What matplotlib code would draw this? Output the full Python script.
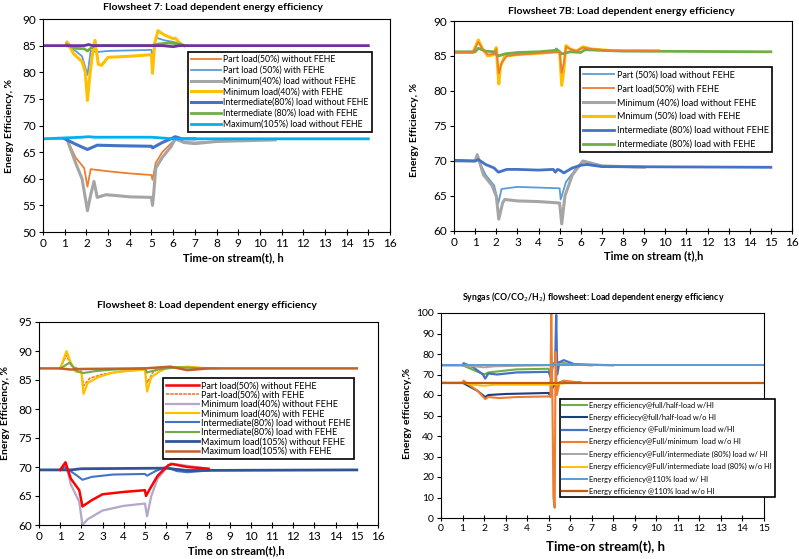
import matplotlib
matplotlib.use("Agg")
import matplotlib.pyplot as plt

plt.rcParams['font.family'] = ['Lato', 'DejaVu Sans']

# ---------------- Panel 1: Flowsheet 7 ----------------
p1_labels = ["Part load(50%) without FEHE", "Part load (50%) with FEHE",
             "Minimum(40%) load without FEHE", "Minimum load(40%) with FEHE",
             "Intermediate(80%) load without FEHE", "Intermediate (80%) load with FEHE",
             "Maximum(105%) load without FEHE"]

p1_part_wo_t = [0, 1.1, 1.5, 1.9, 2.05, 2.2, 3, 4, 5, 5.05, 5.2, 5.5, 6.0, 6.2, 6.5, 7, 8, 9.2]
p1_part_wo_y = [67.5, 67.5, 64, 62, 58.5, 61.8, 61.4, 61.0, 60.7, 59.8, 63, 65, 67, 67.5, 66.9, 66.8, 67.0, 67.3]

p1_part_w_t = [1.1, 1.5, 1.8, 2.05, 2.2, 2.5, 3, 4, 5, 5.05, 5.2, 5.6, 6.0, 6.2, 6.5]
p1_part_w_y = [85.0, 84.0, 83.0, 79.5, 84.0, 83.8, 84.0, 84.1, 84.2, 82.5, 86.5, 86.0, 85.7, 85.5, 85.0]

p1_min_wo_t = [1.1, 1.5, 1.8, 2.05, 2.2, 2.35, 2.5, 2.9, 3.5, 4, 5, 5.05, 5.1, 5.2, 5.5, 5.9, 6.1, 6.5, 7, 8, 10.7]
p1_min_wo_y = [67.5, 63, 60, 54, 57, 59.5, 56.5, 57, 56.8, 56.6, 56.5, 55, 57, 62, 64, 66, 67.5, 66.8, 66.6, 67.0, 67.3]

p1_min_w_t = [1.05, 1.1, 1.2, 1.4, 1.8, 1.95, 2.05, 2.15, 2.3, 2.4, 2.55, 2.7, 3, 4, 5, 5.05, 5.15, 5.3, 5.6, 6.0, 6.1, 6.3, 6.5]
p1_min_w_y = [85.0, 85.7, 85.2, 83.5, 82.0, 80.0, 74.7, 79.0, 84.0, 86.0, 81.5, 81.3, 82.8, 83.0, 83.3, 79.8, 85.5, 87.8, 87.0, 86.3, 86.4, 85.5, 85.0]

p1_int_wo_t = [1.0, 1.5, 2.05, 2.5, 3.5, 5, 5.05, 5.5, 5.9, 6.1, 6.4, 7]
p1_int_wo_y = [67.5, 66.5, 65.5, 66.3, 66.2, 66.1, 65.8, 66.8, 67.5, 67.9, 67.5, 67.5]

p1_int_w_t = [1.1, 1.5, 1.9, 2.05, 2.2, 2.4, 5.0, 5.3, 5.8, 6.3, 6.5]
p1_int_w_y = [85.2, 84.5, 84.4, 84.0, 84.5, 85.0, 85.0, 85.3, 85.5, 85.3, 85.0]

p1_max_wo_t = [0, 1.8, 2.1, 2.4, 5.0, 6.0, 15]
p1_max_wo_y = [67.5, 67.8, 67.9, 67.8, 67.8, 67.5, 67.5]

p1_max_w_t = [0, 1.9, 2.1, 2.3, 5.5, 6.0, 6.3, 15]
p1_max_w_y = [85.0, 85.0, 85.2, 85.0, 85.0, 84.8, 85.0, 85.0]

# ---------------- Panel 2: Flowsheet 7B ----------------
p2_labels = ["Part (50%) load without FEHE", "Part load(50%) with FEHE",
             "Minimum (40%) load without FEHE", "Mnimum (50%) load with FEHE",
             "Intermediate (80%) load without FEHE", "Intermediate (80%) load with FEHE"]

p2_part_wo_t = [0, 1.0, 1.1, 1.5, 1.9, 2.1, 2.25, 3, 4, 5, 5.05, 5.3, 5.8, 6.1, 7]
p2_part_wo_y = [70.0, 70.0, 70.5, 68.0, 66.5, 64.0, 66.0, 66.3, 66.2, 66.1, 64.5, 67.0, 69.0, 69.5, 69.3]

p2_part_w_t = [0, 0.9, 1.15, 1.35, 1.6, 1.9, 2.0, 2.12, 2.25, 2.5, 3, 4, 5, 5.1, 5.2, 5.3, 5.5, 5.8, 6.1, 6.5, 7.3, 9.7]
p2_part_w_y = [85.5, 85.5, 87.0, 86.0, 85.2, 85.3, 86.0, 82.5, 84.0, 85.0, 85.2, 85.4, 85.6, 82.6, 84.0, 86.3, 86.0, 85.7, 86.2, 86.0, 85.8, 85.8]

p2_min_wo_t = [0, 1.0, 1.1, 1.4, 1.8, 2.0, 2.12, 2.3, 2.4, 3, 4, 5, 5.1, 5.25, 5.6, 6.1, 7, 9]
p2_min_wo_y = [70.0, 70.0, 70.9, 68.0, 66.5, 65.0, 61.7, 64.0, 64.5, 64.3, 64.2, 64.0, 61.0, 65.0, 68.0, 70.0, 69.3, 69.1]

p2_min_w_t = [0, 0.9, 1.15, 1.35, 1.6, 1.9, 2.0, 2.12, 2.2, 2.4, 3, 4, 5, 5.1, 5.2, 5.3, 5.5, 5.8, 6.1, 6.5, 7.3]
p2_min_w_y = [85.5, 85.5, 87.3, 86.0, 85.0, 85.2, 86.2, 81.0, 83.5, 85.0, 85.2, 85.4, 85.6, 80.8, 83.0, 86.5, 86.0, 85.7, 86.3, 86.0, 85.8]

p2_int_wo_t = [0, 1.0, 1.15, 1.5, 1.9, 2.1, 2.5, 3, 4, 4.7, 4.8, 4.9, 5.0, 5.2, 5.6, 6.0, 6.3, 7, 15]
p2_int_wo_y = [70.1, 70.0, 70.2, 69.5, 69.0, 68.4, 68.8, 68.8, 68.7, 68.8, 68.4, 68.8, 68.7, 68.3, 69.0, 69.4, 69.5, 69.2, 69.1]

p2_int_w_t = [0, 1.0, 1.15, 1.5, 1.9, 2.1, 2.4, 3, 4, 4.8, 4.85, 5.1, 5.5, 6.0, 6.2, 7, 8, 15]
p2_int_w_y = [85.6, 85.6, 86.1, 85.7, 85.6, 85.0, 85.3, 85.5, 85.6, 85.8, 86.0, 85.3, 85.6, 85.5, 85.9, 85.8, 85.7, 85.6]

# ---------------- Panel 3: Flowsheet 8 ----------------
p3_labels = ["Part load(50%) without FEHE", "Part-load(50%) with FEHE",
             "Minimum load(40%) without FEHE", "Minimum load(40%) with FEHE",
             "Intermediate(80%) load without FEHE", "Intermediate(80%) load with FEHE",
             "Maximum load(105%) without FEHE", "Maximum load(105%) with FEHE"]

p3_part_wo_t = [1.0, 1.25, 1.5, 1.9, 2.05, 2.5, 3, 4, 5, 5.05, 5.2, 5.6, 6.1, 6.3, 7, 8]
p3_part_wo_y = [69.5, 70.8, 68.0, 66.0, 63.2, 64.3, 65.3, 65.7, 66.0, 65.0, 66.0, 68.5, 70.3, 70.5, 70.0, 69.7]

p3_part_w_t = [1.0, 1.3, 1.5, 2.0, 2.1, 2.4, 3, 4, 5, 5.1, 5.4, 6.0, 7, 8]
p3_part_w_y = [87.0, 89.3, 87.5, 86.7, 84.0, 85.3, 86.0, 86.5, 86.8, 84.5, 86.5, 87.2, 87.2, 87.0]

p3_min_wo_t = [1.0, 1.25, 1.5, 1.9, 2.05, 2.3, 3, 4, 5, 5.1, 5.3, 5.6, 6.2, 7, 8]
p3_min_wo_y = [69.5, 70.8, 67.0, 64.0, 60.0, 61.0, 62.5, 63.3, 63.7, 61.5, 65.0, 68.0, 70.6, 70.2, 69.7]

p3_min_w_t = [1.0, 1.3, 1.5, 1.7, 2.0, 2.1, 2.3, 2.8, 3.5, 4, 5, 5.1, 5.3, 5.7, 6.0, 7, 8, 8.5]
p3_min_w_y = [87.0, 90.0, 88.0, 86.5, 86.3, 82.6, 84.5, 85.5, 86.3, 86.5, 86.8, 83.0, 85.5, 86.5, 87.0, 87.3, 87.0, 87.0]

p3_int_wo_t = [1.0, 1.2, 1.8, 2.05, 2.5, 3.5, 5, 5.1, 5.5, 6.0, 6.5, 7, 8]
p3_int_wo_y = [69.5, 70.0, 68.5, 67.8, 68.3, 68.7, 68.8, 68.5, 69.3, 70.0, 69.3, 69.1, 69.4]

p3_int_w_t = [1.0, 1.45, 1.8, 2.1, 2.6, 3.5, 5, 5.1, 5.6, 6.0, 6.5, 8]
p3_int_w_y = [87.0, 88.0, 86.5, 86.2, 86.5, 86.8, 87.0, 86.3, 86.8, 87.0, 87.2, 87.0]

p3_max_wo_t = [0, 1.0, 1.5, 2.0, 6.0, 7, 15]
p3_max_wo_y = [69.5, 69.5, 69.5, 69.7, 69.8, 69.4, 69.5]

p3_max_w_t = [0, 1.0, 1.5, 2.0, 5.0, 6.2, 7, 8, 15]
p3_max_w_y = [87.0, 87.0, 86.8, 86.9, 87.0, 87.3, 86.7, 87.0, 87.0]

# ---------------- Panel 4: Syngas flowsheet ----------------
p4_labels = ["Energy efficiency@full/half-load w/HI", "Energy efficiecy@full/half-load w/o HI",
             "Energy efficiency @Full/minimum load w/HI", "Energy efficiency@Full/minimum  load w/o HI",
             "Energy efficiency@Full/intermediate (80%) load w/ HI",
             "Energy efficiency@Full/intermediate load (80%) w/o HI",
             "Energy efficiency@110% load w/ HI", "Energy efficiency @110% load w/o HI"]

p4_half_w_t = [1.0, 2.0, 2.2, 3.5, 5.0, 5.1, 5.2, 5.5, 6.0, 7.0]
p4_half_w_y = [74.5, 70.0, 71.0, 72.5, 72.8, 70.0, 75.5, 76.0, 75.0, 74.5]

p4_half_wo_t = [1.0, 1.7, 2.05, 2.2, 3.0, 5.0, 5.05, 5.2, 5.4, 5.6, 6.5]
p4_half_wo_y = [66.0, 62.0, 59.0, 60.0, 60.5, 61.0, 60.0, 64.0, 65.5, 66.5, 66.0]

p4_min_w_t = [0, 1.0, 1.05, 1.5, 1.95, 2.05, 2.2, 2.6, 3.5, 5.0, 5.1, 5.2, 5.3, 5.35, 5.4, 5.5, 5.7, 6.2, 8.0]
p4_min_w_y = [74.5, 74.5, 75.5, 73.5, 70.0, 68.0, 70.5, 70.0, 71.0, 71.3, 68.5, 75.0, 75.0, 99.0, 70.0, 76.0, 77.0, 75.0, 74.5]

p4_min_wo_t = [0, 1.0, 1.05, 1.3, 1.7, 2.05, 2.2, 2.7, 3.5, 5.0, 5.08, 5.12, 5.18, 5.22, 5.28, 5.32, 5.38, 5.5, 5.7, 6.5]
p4_min_wo_y = [66.0, 66.0, 67.0, 65.0, 62.0, 58.0, 59.0, 58.5, 59.0, 59.3, 59.0, 100.0, 52.0, 10.0, 5.0, 81.0, 60.0, 66.0, 67.0, 66.0]

p4_int_w_t = [1.0, 2.0, 2.5, 5.0, 5.5, 7.0]
p4_int_w_y = [74.5, 73.5, 74.0, 74.5, 75.0, 74.5]

p4_int_wo_t = [1.0, 1.5, 2.0, 2.5, 5.0, 5.5, 6.0]
p4_int_wo_y = [66.0, 65.0, 64.5, 65.0, 65.0, 65.5, 66.0]

p4_max_w_t = [0, 15]
p4_max_w_y = [74.5, 74.5]

p4_max_wo_t = [0, 15]
p4_max_wo_y = [66.0, 66.0]

# ---------------- Figure ----------------
W, H = 799, 559
fig = plt.figure(figsize=(W / 100, H / 100), dpi=100)

def ax_px(l, t, r, b):
    return fig.add_axes([l / W, 1 - b / H, (r - l) / W, (b - t) / H])

def ftext(x, y, s, **kw):
    fig.text(x / W, 1 - y / H, s, ha='center', va='center', **kw)

def style(ax, xmax, ylim, ystep, xs=8.5, ys=8.5):
    ax.set_xlim(0, xmax)
    ax.set_ylim(*ylim)
    ax.set_xticks(range(0, xmax + 1))
    ax.set_yticks(range(ylim[0], ylim[1] + 1, ystep))
    ax.tick_params(axis='x', direction='inout', length=5, width=0.8, labelsize=xs, pad=2)
    ax.tick_params(axis='y', direction='out', length=3, width=0.8, labelsize=ys, pad=2)
    for s in ax.spines.values():
        s.set_linewidth(0.8)
        s.set_color('black')

ORANGE = '#ED7D31'
LBLUE = '#5B9BD5'
GRAY = '#A5A5A5'
GOLD = '#FFC000'
DBLUE = '#4472C4'
GREEN = '#70AD47'
CYAN = '#00B0F0'
PURPLE = '#7030A0'

def legend(ax, handles, labels, bbox, fs, ls, hl):
    lg = ax.legend(handles, labels, loc='upper left', bbox_to_anchor=bbox, fontsize=fs,
                   frameon=True, fancybox=False, edgecolor='black', framealpha=1,
                   handlelength=hl, handletextpad=0.3, borderpad=0.35, labelspacing=ls,
                   borderaxespad=0)
    lg.get_frame().set_linewidth(1.2)

# Panel 1
ax1 = ax_px(43, 19, 390, 232)
style(ax1, 16, (50, 90), 5)
h = []
h.append(ax1.plot(p1_part_wo_t, p1_part_wo_y, color=ORANGE, lw=1.3)[0])
h.append(ax1.plot(p1_part_w_t, p1_part_w_y, color=LBLUE, lw=1.3)[0])
h.append(ax1.plot(p1_min_wo_t, p1_min_wo_y, color=GRAY, lw=2.2)[0])
h.append(ax1.plot(p1_min_w_t, p1_min_w_y, color=GOLD, lw=2.2)[0])
h.append(ax1.plot(p1_int_wo_t, p1_int_wo_y, color=DBLUE, lw=2.2)[0])
h.append(ax1.plot(p1_int_w_t, p1_int_w_y, color=GREEN, lw=2.0)[0])
h.append(ax1.plot(p1_max_wo_t, p1_max_wo_y, color=CYAN, lw=2.0)[0])
ax1.plot(p1_max_w_t, p1_max_w_y, color=PURPLE, lw=2.0)
legend(ax1, h, p1_labels, (0.418, 0.845), 6.3, 0.2, 3.4)
ftext(213, 8, "Flowsheet 7: Load dependent energy efficiency", fontsize=7.5, fontweight='bold')
ftext(233, 258, "Time-on stream(t), h", fontsize=8, fontweight='bold')
ftext(10, 126, "Energy Efficiency, %", fontsize=7.5, fontweight='bold', rotation=90)

# Panel 2
ax2 = ax_px(454, 21, 792, 231)
style(ax2, 16, (60, 90), 5)
h = []
h.append(ax2.plot(p2_part_wo_t, p2_part_wo_y, color=LBLUE, lw=1.3)[0])
h.append(ax2.plot(p2_part_w_t, p2_part_w_y, color=ORANGE, lw=1.3)[0])
h.append(ax2.plot(p2_min_wo_t, p2_min_wo_y, color=GRAY, lw=2.2)[0])
h.append(ax2.plot(p2_min_w_t, p2_min_w_y, color=GOLD, lw=2.2)[0])
h.append(ax2.plot(p2_int_wo_t, p2_int_wo_y, color=DBLUE, lw=2.0)[0])
h.append(ax2.plot(p2_int_w_t, p2_int_w_y, color=GREEN, lw=2.0)[0])
ax2.lines[1].set_zorder(2.5)
legend(ax2, h, p2_labels, (0.373, 0.781), 6.5, 0.55, 3.4)
ftext(621, 11, "Flowsheet 7B: Load dependent energy efficiency", fontsize=7.5, fontweight='bold')
ftext(654, 256, "Time on stream (t),h", fontsize=8, fontweight='bold')
ftext(415, 130, "Energy Efficiency, %", fontsize=7.5, fontweight='bold', rotation=90)

# Panel 3
ax3 = ax_px(39, 322, 378, 525)
style(ax3, 16, (60, 95), 5)
h = []
h.append(ax3.plot(p3_part_wo_t, p3_part_wo_y, color='#FF0000', lw=1.8, zorder=3)[0])
h.append(ax3.plot(p3_part_w_t, p3_part_w_y, color=ORANGE, lw=1.2, ls=(0, (2, 0.6)))[0])
h.append(ax3.plot(p3_min_wo_t, p3_min_wo_y, color='#B4A7C8', lw=1.6)[0])
h.append(ax3.plot(p3_min_w_t, p3_min_w_y, color=GOLD, lw=1.6)[0])
h.append(ax3.plot(p3_int_wo_t, p3_int_wo_y, color=DBLUE, lw=1.5)[0])
h.append(ax3.plot(p3_int_w_t, p3_int_w_y, color=GREEN, lw=1.5)[0])
h.append(ax3.plot(p3_max_wo_t, p3_max_wo_y, color='#2F5597', lw=2.0)[0])
h.append(ax3.plot(p3_max_w_t, p3_max_w_y, color='#C0602A', lw=1.8)[0])
legend(ax3, h, p3_labels, (0.366, 0.724), 6.5, 0.04, 3.6)
ftext(207, 305, "Flowsheet 8: Load dependent energy efficiency", fontsize=7.5, fontweight='bold')
ftext(236, 551, "Time on stream(t),h", fontsize=8, fontweight='bold')
ftext(6, 413, "Energy Efficiency, %", fontsize=7.5, fontweight='bold', rotation=90)

# Panel 4
ax4 = ax_px(441, 313, 764, 518)
style(ax4, 15, (0, 100), 10, xs=7.5, ys=7.5)
h = []
h.append(ax4.plot(p4_half_w_t, p4_half_w_y, color=GREEN, lw=1.5)[0])
h.append(ax4.plot(p4_half_wo_t, p4_half_wo_y, color='#1F3D7A', lw=1.5)[0])
h.append(ax4.plot(p4_min_w_t, p4_min_w_y, color=DBLUE, lw=1.6)[0])
h.append(ax4.plot(p4_min_wo_t, p4_min_wo_y, color=ORANGE, lw=1.5)[0])
h.append(ax4.plot(p4_int_w_t, p4_int_w_y, color=GRAY, lw=1.4)[0])
h.append(ax4.plot(p4_int_wo_t, p4_int_wo_y, color=GOLD, lw=1.4)[0])
h.append(ax4.plot(p4_max_w_t, p4_max_w_y, color=LBLUE, lw=1.4)[0])
h.append(ax4.plot(p4_max_wo_t, p4_max_wo_y, color='#C55A11', lw=1.6)[0])
legend(ax4, h, p4_labels, (0.368, 0.58), 5.4, 0.7, 3.3)
ftext(593, 297, "Syngas (CO/CO$_2$/H$_2$) flowsheet: Load dependent energy efficiency", fontsize=6.3, fontweight='bold')
ftext(605, 547, "Time-on stream(t), h", fontsize=9.5, fontweight='bold')
ftext(408, 413, "Energy efficiency,%", fontsize=7.5, fontweight='bold', rotation=90)

fig.savefig("out.png", dpi=100)
